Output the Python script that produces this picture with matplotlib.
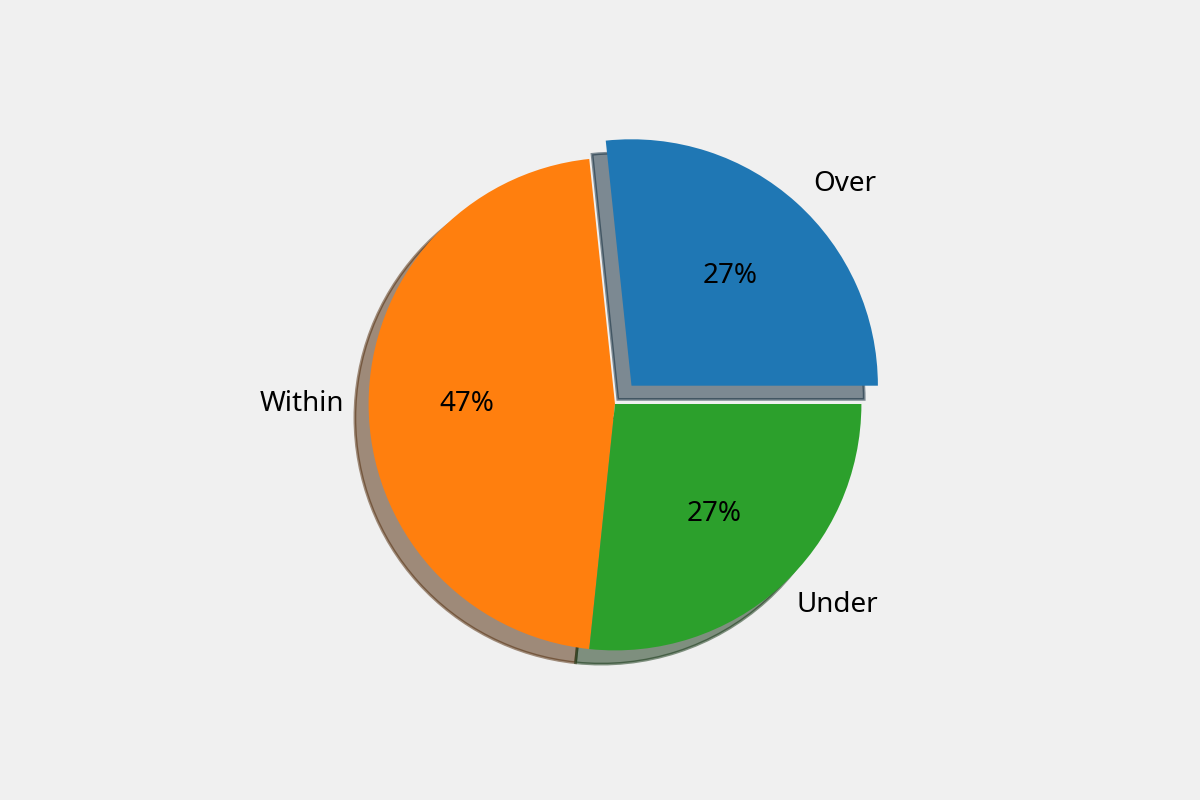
import matplotlib
matplotlib.use("Agg")
import matplotlib.pyplot as plt

plt.rcParams["font.family"] = ["Noto Sans", "DejaVu Sans"]

labels = ["Over", "Within", "Under"]
counts = [4, 7, 4]
explode = [0.1, 0, 0]

fig, ax = plt.subplots(figsize=(6, 4), dpi=200)
fig.patch.set_facecolor("#f0f0f0")
ax.set_facecolor("#f0f0f0")

ax.pie(counts, labels=labels, explode=explode, autopct="%1.0f%%",
       shadow=True, startangle=0)

fig.savefig("out.png", dpi=200, facecolor=fig.get_facecolor())
